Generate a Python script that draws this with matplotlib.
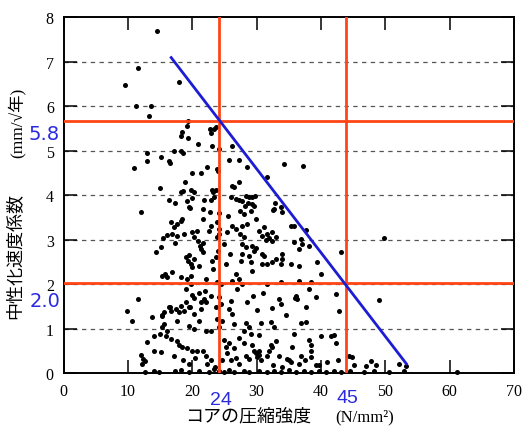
import matplotlib.pyplot as plt

plt.rcParams['font.family'] = ['Liberation Serif', 'Noto Sans CJK JP', 'DejaVu Sans']

# core compressive strength (N/mm2) vs carbonation rate coefficient (mm/sqrt(year))
pts_upper = [(14.6, 7.69), (11.6, 6.86), (9.6, 6.48), (18.0, 6.55), (11.3, 6.0), (13.6, 6.0),
             (13.3, 5.79), (19.4, 5.68), (19.2, 5.55), (18.4, 5.43), (18.3, 5.34), (19.4, 5.29),
             (20.9, 5.16), (22.8, 5.5), (22.9, 5.4), (23.4, 5.5), (23.7, 5.54), (23.1, 5.1),
             (24.2, 5.03), (13.0, 4.96), (12.9, 4.78), (11.0, 4.62), (15.2, 4.85), (16.4, 4.76),
             (16.6, 4.72), (17.2, 5.0), (18.3, 5.0), (18.6, 4.94), (22.3, 4.63), (23.9, 4.58),
             (24.0, 4.54), (25.7, 4.8), (26.2, 5.1), (27.3, 4.8), (28.5, 4.63), (20.0, 4.51),
             (21.4, 4.51), (34.3, 4.71), (37.2, 4.65), (31.6, 4.42)]
pts_mid_hi = [(15.0, 4.16), (16.4, 3.89), (17.3, 3.82), (18.3, 4.07), (18.9, 4.29), (18.6, 4.09),
              (19.2, 3.87), (19.8, 4.13), (20.2, 4.08), (20.0, 3.93), (19.7, 3.72), (21.6, 3.69),
              (21.9, 3.9), (23.1, 4.13), (23.3, 4.07), (23.7, 4.13), (23.4, 3.96), (22.9, 3.89),
              (22.8, 3.62), (24.2, 3.6), (26.2, 4.2), (26.8, 3.91), (26.0, 3.96), (27.3, 4.29),
              (26.5, 4.18), (27.2, 3.9), (27.7, 3.88), (28.4, 3.98), (28.9, 3.96), (29.3, 3.96),
              (29.8, 3.98), (28.2, 3.75), (29.3, 3.8), (27.5, 3.65), (28.0, 3.58), (29.1, 3.64),
              (28.6, 3.82), (29.6, 3.75), (32.9, 3.82), (32.6, 3.66), (34.0, 3.62), (32.7, 3.69),
              (33.8, 3.73), (12.1, 3.62), (19.5, 3.73), (25.6, 3.53)]
pts_mid = [(17.2, 3.28), (17.7, 3.35), (18.3, 3.42), (18.4, 3.46), (16.7, 3.4), (21.6, 3.46),
           (18.8, 3.13), (20.0, 3.17), (20.8, 3.2), (20.3, 3.06), (22.6, 3.2), (22.9, 3.3),
           (23.9, 3.4), (24.2, 3.24), (23.9, 3.06), (24.2, 3.13), (26.2, 3.31), (25.4, 3.17),
           (26.8, 3.24), (15.5, 3.04), (16.1, 3.1), (16.9, 3.13), (17.7, 3.08), (14.4, 2.73),
           (15.2, 2.84), (17.4, 2.93), (20.9, 2.97), (21.2, 2.86), (21.4, 2.79), (21.6, 2.73),
           (21.6, 2.92), (19.1, 2.61), (19.4, 2.53), (19.8, 2.46), (20.0, 2.39), (19.5, 2.66),
           (20.3, 2.57), (21.1, 2.41), (23.1, 2.53), (23.3, 2.35), (24.0, 2.75), (23.7, 2.61),
           (25.9, 2.68), (15.3, 2.19), (16.9, 2.28), (15.7, 2.23), (16.1, 2.17), (18.3, 2.17),
           (19.8, 2.19), (22.2, 2.12), (23.9, 2.06), (24.5, 2.01), (26.8, 2.23), (26.2, 2.08),
           (27.8, 3.31), (28.5, 3.35), (27.4, 3.13), (28.1, 3.06), (27.8, 2.9), (28.4, 2.84),
           (29.9, 3.46), (31.2, 3.28), (31.6, 3.13), (31.5, 3.0), (32.0, 3.04), (32.4, 2.97),
           (33.0, 3.06), (30.9, 3.08), (30.4, 3.2), (32.4, 3.17), (35.3, 3.31), (37.7, 3.22),
           (35.8, 3.3), (36.9, 3.02), (38.1, 2.86), (35.8, 2.95), (36.6, 2.79), (37.0, 2.9),
           (29.3, 2.86), (29.9, 2.82), (29.6, 2.75), (30.9, 2.68), (31.2, 2.64), (34.0, 2.68),
           (34.0, 2.57), (35.3, 2.46), (36.6, 2.41), (27.8, 2.68), (27.6, 2.53), (28.8, 2.64),
           (29.1, 2.5), (30.9, 2.46), (31.6, 2.46), (32.4, 2.5), (33.0, 2.57), (33.8, 2.46),
           (29.3, 2.3), (39.4, 2.5), (40.0, 2.23), (33.8, 2.06), (36.6, 2.08), (38.4, 2.06),
           (27.3, 2.12), (27.8, 2.01), (31.6, 2.01), (43.1, 2.73), (49.8, 3.04), (19.2, 2.12),
           (19.8, 2.01), (25.0, 2.9), (25.3, 2.45)]
pts_low = [(19.1, 1.9), (11.5, 1.67), (9.9, 1.41), (10.7, 1.18), (13.8, 1.27), (15.3, 1.32),
           (15.6, 1.37), (16.4, 1.49), (17.5, 1.45), (18.0, 1.38), (18.3, 1.52), (19.1, 1.6),
           (19.7, 1.5), (20.2, 1.7), (21.1, 1.8), (21.4, 1.6), (22.0, 1.85), (20.0, 1.76),
           (21.9, 1.68), (22.9, 1.74), (22.2, 1.61), (21.4, 1.45), (24.2, 1.72), (24.5, 1.56),
           (23.7, 1.5), (26.0, 1.63), (25.7, 1.45), (26.2, 1.34), (16.6, 1.5), (16.7, 1.39),
           (15.3, 1.28), (17.7, 1.18), (18.8, 1.41), (19.5, 1.5), (20.3, 1.34), (19.5, 1.07),
           (20.3, 1.0), (21.1, 1.18), (22.2, 0.94), (22.9, 0.96), (15.0, 0.89), (16.1, 0.94),
           (16.0, 0.83), (16.7, 0.78), (15.3, 1.05), (15.6, 1.1), (17.7, 0.72), (18.0, 0.63),
           (18.4, 0.6), (19.2, 0.56), (20.0, 0.51), (20.8, 0.51), (12.9, 0.71), (14.1, 0.83),
           (24.2, 1.05), (24.7, 1.18), (23.9, 1.23), (25.0, 0.74), (25.3, 0.6), (25.7, 0.67),
           (26.5, 0.56), (29.5, 1.74), (33.5, 1.68), (33.8, 1.56), (36.1, 1.74), (36.3, 1.66),
           (39.2, 1.72), (30.1, 1.43), (32.4, 1.47), (37.7, 1.5), (28.4, 1.14), (28.8, 1.05),
           (30.7, 1.12), (32.2, 1.16), (32.7, 1.05), (36.9, 1.14), (37.7, 1.16), (29.1, 0.89),
           (28.1, 0.94), (30.4, 0.85), (35.8, 0.89), (40.0, 0.83), (41.6, 0.83), (38.1, 0.74),
           (38.4, 0.63), (28.1, 0.67), (29.3, 0.63), (29.6, 0.51), (30.4, 0.49), (32.2, 0.63),
           (32.4, 0.58), (31.9, 0.49), (33.0, 0.72), (42.3, 1.79), (49.1, 1.65), (42.8, 1.39),
           (42.0, 0.85), (42.3, 0.67), (38.1, 1.9), (36.0, 1.7), (27.0, 1.9), (28.5, 1.6),
           (31.0, 1.8), (26.5, 1.1), (27.2, 0.8), (34.5, 1.3), (35.5, 0.6)]
pts_floor = [(12.1, 0.42), (12.4, 0.33), (12.2, 0.22), (14.0, 0.49), (15.2, 0.47), (12.6, 0.27),
             (17.2, 0.38), (21.6, 0.49), (22.2, 0.38), (22.9, 0.29), (22.3, 0.2), (25.4, 0.45),
             (26.0, 0.29), (26.8, 0.34), (29.9, 0.45), (28.4, 0.4), (28.8, 0.33), (30.0, 0.36),
             (30.4, 0.42), (30.7, 0.29), (31.6, 0.38), (34.7, 0.33), (35.0, 0.29), (35.3, 0.25),
             (33.5, 0.38), (36.9, 0.4), (36.6, 0.22), (38.4, 0.49), (38.4, 0.36), (39.2, 0.18),
             (39.7, 0.18), (42.6, 0.29), (44.3, 0.4), (44.8, 0.36), (45.1, 0.18), (47.0, 0.16),
             (47.8, 0.27), (48.5, 0.18), (52.2, 0.2), (53.2, 0.16), (18.5, 0.3), (19.5, 0.2),
             (20.5, 0.35), (23.5, 0.15), (24.6, 0.3), (27.3, 0.2), (32.5, 0.18), (34.0, 0.15),
             (37.5, 0.3), (41.0, 0.25)]
base_x = [12.6, 14.1, 14.9, 17.3, 18.3, 19.5, 21.1, 22.6, 23.4, 24.2, 25.0, 25.7, 26.5, 28.1,
          28.8, 30.4, 31.6, 32.7, 33.8, 35.0, 36.1, 37.4, 38.4, 39.7, 40.8, 42.0, 43.1, 44.5,
          46.7, 48.2, 50.5, 52.9, 61.1]
base_y = [0.04, 0.06, 0.03, 0.05, 0.08, 0.04, 0.06, 0.03, 0.09, 0.05, 0.04, 0.07, 0.03, 0.05,
          0.04, 0.06, 0.03, 0.05, 0.04, 0.07, 0.03, 0.05, 0.04, 0.06, 0.03, 0.05, 0.04, 0.06,
          0.03, 0.05, 0.04, 0.06, 0.02]

# reference lines
red_v = [24.2, 43.9]
red_h = [5.66, 2.03]
fit_x = [16.6, 53.4]
fit_y = [7.12, 0.19]
xticks = [0, 10, 20, 30, 40, 50, 60, 70]
yticks = [0, 1, 2, 3, 4, 5, 6, 7, 8]

W, H = 524, 427
fig = plt.figure(figsize=(W / 100, H / 100), dpi=100)
ax = fig.add_axes([63.5 / W, (H - 374.3) / H, (514 - 63.5) / W, (374.3 - 18.3) / H])
ax.set_xlim(0, 70)
ax.set_ylim(0, 8)

for y in yticks[1:-1]:
    ax.axhline(y, color='#555555', lw=0.9, ls=(0, (3.5, 3.5)), zorder=1)

xs, ys = [], []
for band in (pts_upper, pts_mid_hi, pts_mid, pts_low, pts_floor):
    xs += [p[0] for p in band]
    ys += [p[1] for p in band]
xs += base_x
ys += base_y
ax.scatter(xs, ys, s=13, c='black', linewidths=0, zorder=3, clip_on=False)

for v in red_v:
    ax.axvline(v, color='#ff4516', lw=2, zorder=4)
for h in red_h:
    ax.axhline(h, color='#ff4516', lw=2, zorder=4)
ax.plot(fit_x, fit_y, color='#1c1cd4', lw=2, zorder=5, solid_capstyle='butt')

ax.set_xticks(xticks)
ax.set_yticks(yticks)
ax.tick_params(direction='in', length=9.5, width=1.1, top=True, right=True,
               labelsize=11.5, pad=7, labeltop=False, labelright=False)
for s in ax.spines.values():
    s.set_linewidth(1.4)

def px(x, y):
    return x / W, 1 - y / H

blue = '#2a2ae0'
fig.text(*px(44, 134), '5.8', color=blue, fontsize=14, family='DejaVu Sans', ha='center', va='center')
fig.text(*px(45, 302), '2.0', color=blue, fontsize=14, family='DejaVu Sans', ha='center', va='center')
fig.text(*px(221, 401), '24', color=blue, fontsize=14, family='Liberation Sans', ha='center', va='center')
fig.text(*px(347, 399), '45', color=blue, fontsize=14, family='Liberation Sans', ha='center', va='center')

fig.text(*px(248, 416), 'コアの圧縮強度', fontsize=13, family='Noto Sans CJK JP', ha='center', va='center')
fig.text(*px(365, 417), '(N/mm²)', fontsize=12, ha='center', va='center')
fig.text(*px(15, 256), '中性化速度係数', fontsize=13, family='Noto Sans CJK JP', rotation=90,
         ha='center', va='center')
fig.text(*px(17, 123), '(mm/√年)', fontsize=12.5, rotation=90, ha='center', va='center')

fig.savefig('out.png', dpi=100)
